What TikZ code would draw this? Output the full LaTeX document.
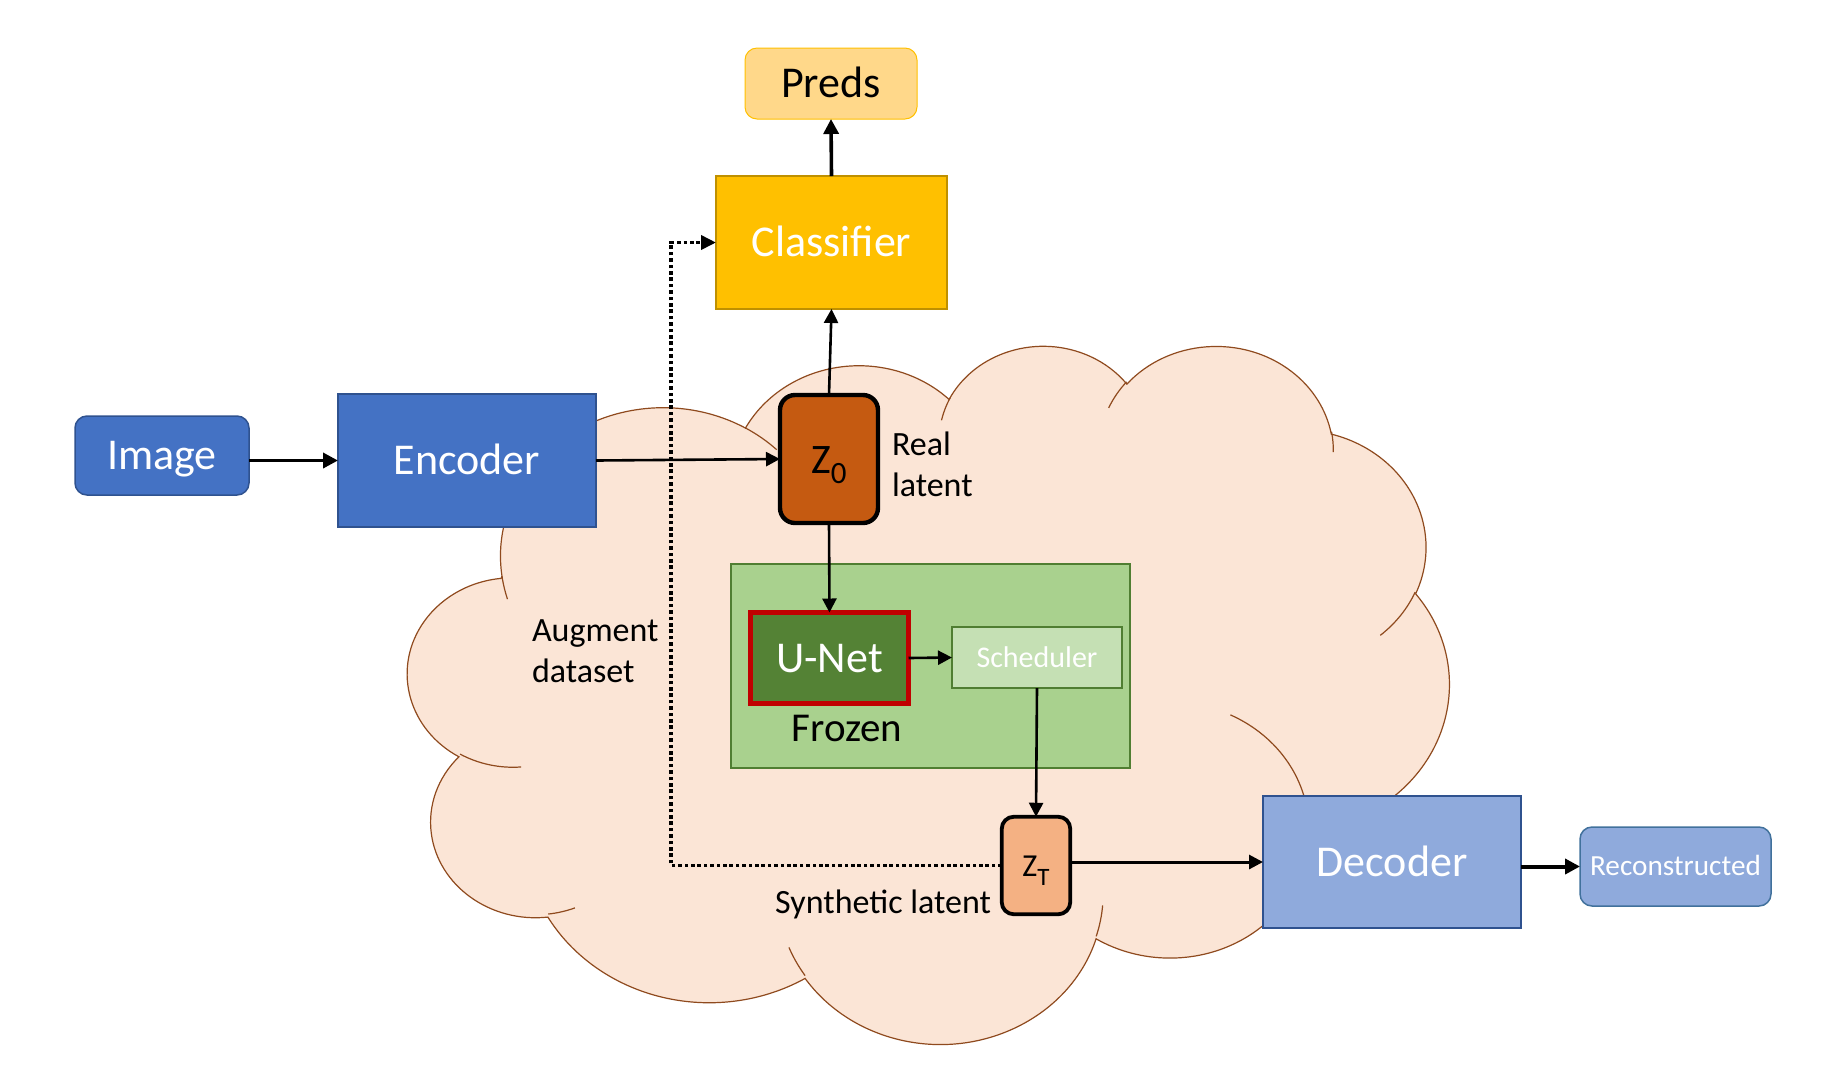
\documentclass[tikz,border=0pt]{standalone}
\usepackage{fontspec}
\setmainfont{Carlito}
\usetikzlibrary{arrows.meta}

\definecolor{encblue}{HTML}{4472C4}
\definecolor{encline}{HTML}{2F528F}
\definecolor{decblue}{HTML}{8FAADC}
\definecolor{recline}{HTML}{41719C}
\definecolor{clsgold}{HTML}{FFC000}
\definecolor{clsline}{HTML}{BF9000}
\definecolor{predsfill}{HTML}{FFD88A}
\definecolor{zorange}{HTML}{C55A11}
\definecolor{ztpeach}{HTML}{F4B183}
\definecolor{frozengreen}{HTML}{A9D18E}
\definecolor{greenline}{HTML}{507E32}
\definecolor{unetgreen}{HTML}{548235}
\definecolor{unetred}{HTML}{C00000}
\definecolor{schedgreen}{HTML}{C5E0B4}
\definecolor{cloudfill}{HTML}{FBE5D6}
\definecolor{cloudbrown}{HTML}{8F4A1E}

\begin{document}
\begin{tikzpicture}[x=0.5pt,y=-0.5pt]
\tikzstyle{every node}=[inner sep=0pt, outer sep=0pt]
\tikzstyle{blockbox}=[draw, rectangle, line width=0.75pt, text=white, font=\fontsize{22}{26}\selectfont, text height=14.2pt, text depth=0pt]
\tikzstyle{smallbox}=[draw, rectangle, line width=0.75pt, text=white, font=\fontsize{15}{18}\selectfont, text height=9.7pt, text depth=0pt]
\tikzstyle{latentbox}=[draw=black, rectangle, rounded corners=7pt]
\tikzstyle{note}=[font=\fontsize{17}{20.5}\selectfont, align=left]
\tikzstyle{flow}=[line width=1.3pt, -{Triangle[length=7pt,width=7pt]}]
\tikzstyle{bold flow}=[line width=1.8pt, -{Triangle[length=7.5pt,width=7.5pt]}]
\tikzstyle{augment}=[line width=1.8pt, dash pattern=on 1.8pt off 1.4pt, -{Triangle[length=7.5pt,width=7pt]}]
\tikzstyle{cloudline}=[draw=cloudbrown, line width=0.6pt]
\useasboundingbox (0,0) rectangle (1848,1078);

% latent space cloud
\begin{scope}[shift={(408,344)}, xscale=24.097, yscale=16.157]
\filldraw[cloudline, fill=cloudfill] (3.9,14.37)
  \foreach \rx/\ry/\st/\sw [evaluate={\st as \ta using atan2(\rx*sin(\st),\ry*cos(\st))},
      evaluate={\sw as \da using mod(atan2(\rx*sin(\st+\sw),\ry*cos(\st+\sw))-\ta+720,360)}]
  in {6.753/9.190/-190.487/123.781, 5.333/7.267/-144.102/89.945,
      4.365/5.945/-145.808/99.723, 4.857/6.595/-130.986/117.242,
      5.333/7.273/-78.709/109.027, 6.775/9.220/-46.267/130.269,
      5.785/7.867/0.625/114.033, 6.752/9.215/22.452/115.173,
      7.720/10.543/66.243/75.711, 4.360/5.918/-274.942/146.736,
      4.345/5.945/-246.829/152.519}
  { arc[x radius=\rx, y radius=\ry, start angle=\ta, delta angle=\da] } -- cycle;
\foreach \ax/\ay/\rx/\ry/\st/\sw [evaluate={\st as \ta using atan2(\rx*sin(\st),\ry*cos(\st))},
    evaluate={\sw as \da using mod(atan2(\rx*sin(\st+\sw),\ry*cos(\st+\sw))-\ta+720,360)}]
  in {4.693/26.177/4.345/5.945/86.742/26.430, 6.928/34.899/4.360/5.918/73.610/11.447,
      16.478/39.090/6.752/9.215/137.624/14.081, 28.827/34.751/6.752/9.215/6.453/15.998,
      34.129/22.954/5.785/7.867/-70.292/70.917, 41.798/15.354/5.333/7.273/30.318/27.752,
      38.324/5.426/4.857/6.595/-13.744/14.859, 29.078/3.952/4.857/6.595/-149.181/18.195,
      22.141/4.720/4.365/5.945/-163.494/17.686, 14.000/5.192/6.753/9.190/-66.707/12.319,
      4.127/15.789/6.753/9.190/157.654/11.858}
  \draw[cloudline] (\ax,\ay) arc[x radius=\rx, y radius=\ry, start angle=\ta, delta angle=\da];
\end{scope}

% blocks
\draw (831,83.5) node (preds) [blockbox, rounded corners=6pt, draw=clsgold, line width=0.5pt, fill=predsfill, text=black, minimum width=86pt, minimum height=35.5pt] {Preds};
\draw (831.5,242.5) node (classifier) [blockbox, draw=clsline, fill=clsgold, minimum width=115.5pt, minimum height=66.5pt] {Classifier};
\draw (162,455.5) node (image) [blockbox, rounded corners=6pt, draw=encline, fill=encblue, minimum width=87pt, minimum height=39.5pt] {Image};
\draw (467,460.5) node (encoder) [blockbox, draw=encline, fill=encblue, minimum width=129pt, minimum height=66.5pt] {Encoder};
\draw (829,459) node (z0) [latentbox, line width=2.2pt, rounded corners=7.5pt, fill=zorange, minimum width=49pt, minimum height=64pt, text height=16pt, text depth=1.5pt] {\fontsize{21}{21}\selectfont Z\raisebox{-5pt}{\fontsize{15.5}{15.5}\selectfont 0}};
\draw (892,464.5) node (reallbl) [note, anchor=west] {Real\\latent};
\draw (930.5,666) node (frozenbox) [draw=greenline, line width=0.75pt, fill=frozengreen, minimum width=199.5pt, minimum height=102pt] {};
\draw (829.5,658) node (unet) [blockbox, draw=unetred, line width=2.5pt, fill=unetgreen, minimum width=79pt, minimum height=45.5pt] {U-Net};
\draw (1037,657.5) node (scheduler) [smallbox, draw=greenline, fill=schedgreen, minimum width=85pt, minimum height=30.5pt] {Scheduler};
\draw (847,741) node (frozenlbl) [anchor=base, font=\fontsize{20.5}{24}\selectfont] {Frozen};
\draw (1036,865.5) node (zt) [latentbox, line width=1.9pt, rounded corners=6pt, fill=ztpeach, minimum width=34.25pt, minimum height=48.75pt, text height=12.5pt, text depth=1.2pt] {\fontsize{16}{16}\selectfont Z\raisebox{-4.5pt}{\fontsize{12.5}{12.5}\selectfont T}};
\draw (991,913) node (synthlbl) [anchor=base east, font=\fontsize{17}{20.5}\selectfont] {Synthetic latent};
\draw (532,651.5) node (auglbl) [note, anchor=west] {Augment\\dataset};
\draw (1392,862) node (decoder) [blockbox, draw=encline, fill=decblue, minimum width=129pt, minimum height=66pt] {Decoder};
\draw (1675.5,866.5) node (recon) [blockbox, rounded corners=6pt, draw=recline, fill=decblue, minimum width=95.5pt, minimum height=39.5pt, font=\fontsize{14.6}{17}\selectfont, text height=9.4pt] {Reconstructed};
\coordinate (augbend) at (671,500);

% connectors
\draw[bold flow] (image.east |- encoder.west) -- (encoder.west);
\draw[flow] (encoder.east) -- (z0.west);
\draw[flow] (z0.north) -- (classifier.south);
\draw[bold flow] (classifier.north) -- (preds.south);
\draw[flow] (z0.south) -- (unet.north);
\draw[flow] (unet.east) -- (scheduler.west);
\draw[flow] (scheduler.south) -- (zt.north);
\draw[flow, line width=1.5pt] (zt.east |- decoder.west) -- (decoder.west);
\draw[bold flow, line width=2pt] (decoder.east |- recon.west) -- (recon.west);
\draw[augment] (zt.west) -| (augbend) |- (classifier.west);
\end{tikzpicture}
\end{document}
